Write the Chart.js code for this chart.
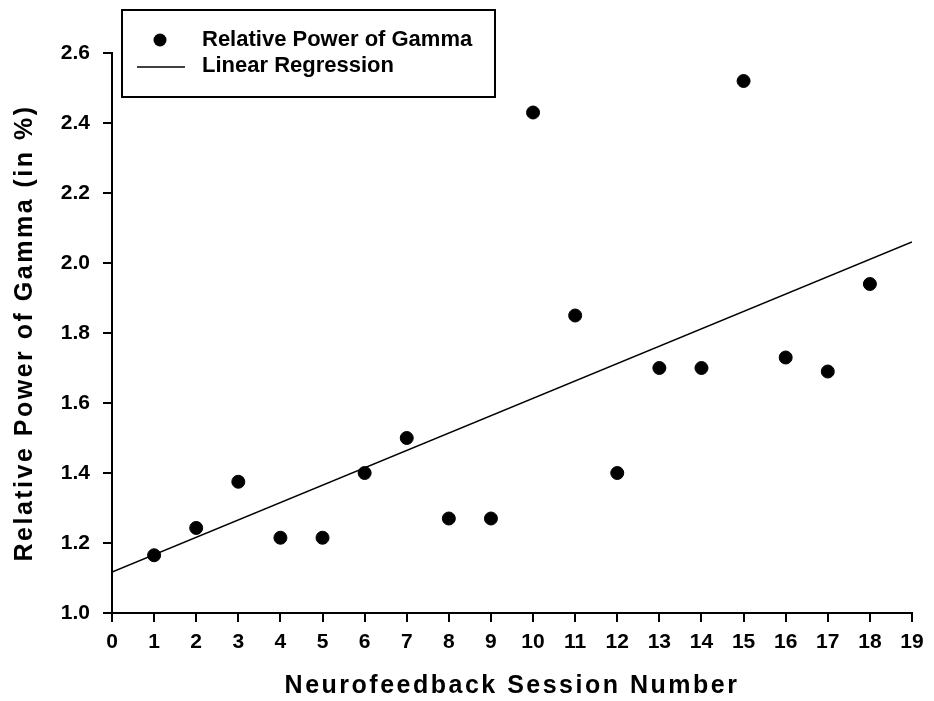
<!DOCTYPE html>
<html>
<head>
<meta charset="utf-8">
<script src="https://cdn.jsdelivr.net/npm/chart.js@4.4.1/dist/chart.umd.min.js"></script>
<style>
    html, body { margin: 0; padding: 0; background: #fff; }
    #wrap { width: 934px; height: 701px; }
</style>
</head>
<body>
<div id="wrap"><canvas id="gammaChart" width="934" height="701"></canvas></div>
<script>
// Dữ liệu
const sessions = [1, 2, 3, 4, 5, 6, 7, 8, 9, 10, 11, 12, 13, 14, 15, 16, 17, 18];
const gammaPower = [1.165, 1.243, 1.375, 1.215, 1.215, 1.40, 1.50, 1.27, 1.27, 2.43, 1.85, 1.40, 1.70, 1.70, 2.52, 1.73, 1.69, 1.94];
const regressionX = [0, 19];
const regressionY = [1.117, 2.06];
const seriesLabels = ['Relative Power of Gamma', 'Linear Regression'];
const xTitle = 'Neurofeedback Session Number';
const yTitle = 'Relative Power of Gamma (in %)';

const FONT = '"Liberation Sans", Arial, sans-serif';

// Giãn chữ cho tiêu đề trục (vẽ ở lớp z=0), trả lại bình thường trước khi vẽ nhãn
const titleSpacing = {
    id: 'titleSpacing',
    beforeDraw(chart) {
        chart.ctx.letterSpacing = '2.5px';
    },
    beforeDatasetsDraw(chart) {
        chart.ctx.letterSpacing = '0px';
    }
};

// Chú thích vẽ tay trong khung
const boxLegend = {
    id: 'boxLegend',
    afterDraw(chart) {
        const c = chart.ctx;
        c.save();
        c.letterSpacing = '0px';
        c.strokeStyle = '#000';
        c.lineWidth = 2;
        c.strokeRect(122, 10, 373, 87);
        c.fillStyle = '#000';
        c.beginPath();
        c.arc(160, 40, 6.5, 0, Math.PI * 2);
        c.fill();
        c.lineWidth = 1.5;
        c.beginPath();
        c.moveTo(137, 67);
        c.lineTo(185, 67);
        c.stroke();
        c.font = 'bold 22px ' + FONT;
        c.textBaseline = 'alphabetic';
        c.fillText(chart.data.datasets[0].label, 202, 46);
        c.fillText(chart.data.datasets[1].label, 202, 72);
        c.restore();
    }
};

const ctx = document.getElementById('gammaChart').getContext('2d');
const chart = new Chart(ctx, {
    type: 'scatter',
    data: {
        datasets: [{
            label: seriesLabels[0],
            data: sessions.map((s, i) => ({ x: s, y: gammaPower[i] })),
            backgroundColor: '#000',
            borderColor: '#000',
            pointRadius: 6.5,
            pointBorderWidth: 1,
            order: 1
        }, {
            label: seriesLabels[1],
            type: 'line',
            data: regressionX.map((x, i) => ({ x: x, y: regressionY[i] })),
            borderColor: '#000',
            borderWidth: 1.5,
            pointRadius: 0,
            fill: false,
            order: 2
        }]
    },
    options: {
        responsive: false,
        animation: false,
        layout: { padding: { left: 0, right: 22, top: 53, bottom: 0 } },
        plugins: {
            legend: { display: false },
            tooltip: { enabled: false }
        },
        scales: {
            x: {
                type: 'linear',
                min: 0,
                max: 19,
                afterFit: (s) => { s.height = 88; },
                border: { color: '#000', width: 2 },
                grid: { drawOnChartArea: false, color: '#000', lineWidth: 2, tickLength: 9 },
                ticks: {
                    z: 1,
                    stepSize: 1,
                    color: '#000',
                    padding: 8,
                    maxRotation: 0,
                    autoSkip: false,
                    font: { family: FONT, size: 21, weight: 'bold' }
                },
                title: {
                    display: true,
                    text: xTitle,
                    color: '#000',
                    padding: { top: 9, bottom: 0 },
                    font: { family: FONT, size: 25, weight: 'bold' }
                }
            },
            y: {
                min: 1.0,
                max: 2.6,
                afterFit: (s) => { s.width = 112; },
                border: { color: '#000', width: 2 },
                grid: { drawOnChartArea: false, color: '#000', lineWidth: 2, tickLength: 9 },
                ticks: {
                    z: 1,
                    stepSize: 0.2,
                    color: '#000',
                    padding: 13,
                    font: { family: FONT, size: 21, weight: 'bold' },
                    callback: (v) => v.toFixed(1)
                },
                title: {
                    display: true,
                    text: yTitle,
                    color: '#000',
                    padding: { top: 10, bottom: 0 },
                    font: { family: FONT, size: 25, weight: 'bold' }
                }
            }
        }
    },
    plugins: [titleSpacing, boxLegend]
});
</script>
</body>
</html>
